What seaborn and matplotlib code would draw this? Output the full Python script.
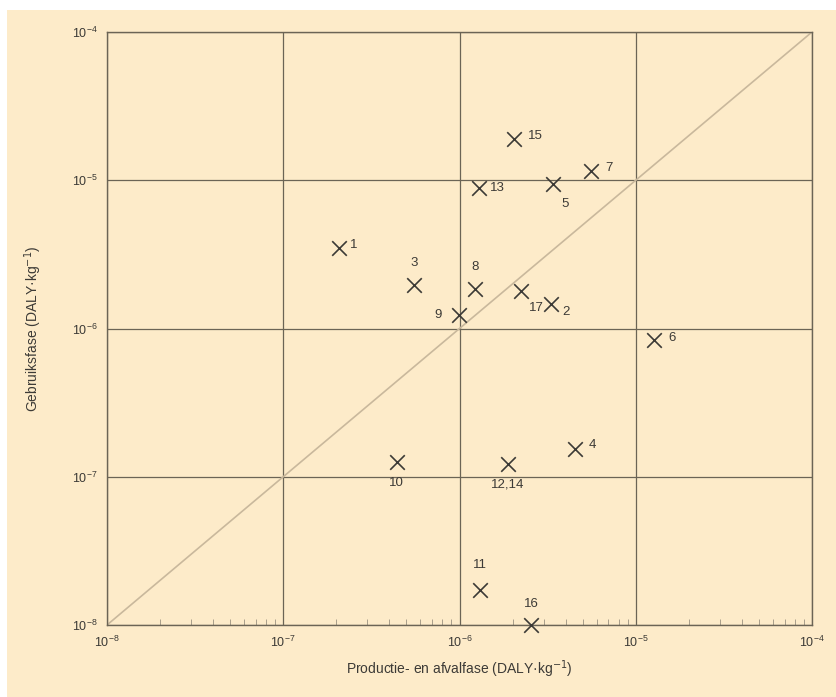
import numpy as np
import pandas as pd
import matplotlib
matplotlib.use('Agg')
import matplotlib.pyplot as plt
import seaborn as sns
from matplotlib.patches import Rectangle
from matplotlib.ticker import LogLocator, NullFormatter

# waarden
labels = ['1', '2', '3', '4', '5', '6', '7', '8', '9', '10',
          '11', '12,14', '13', '15', '16', '17']
productie = [2.07e-7, 3.3e-6, 5.5e-7, 4.5e-6, 3.4e-6, 1.27e-5, 5.6e-6, 1.22e-6, 0.99e-6, 4.4e-7,
             1.31e-6, 1.88e-6, 1.29e-6, 2.04e-6, 2.55e-6, 2.23e-6]
gebruik = [3.5e-6, 1.46e-6, 1.96e-6, 1.54e-7, 9.4e-6, 8.4e-7, 1.15e-5, 1.85e-6, 1.23e-6, 1.26e-7,
           1.72e-8, 1.22e-7, 8.9e-6, 1.9e-5, 1.0e-8, 1.79e-6]
# positie van label t.o.v. kruisje (punten)
offsets = {'1': (8, 2), '2': (8, -6), '3': (0, 16), '4': (10, 3), '5': (6, -14),
           '6': (10, 1), '7': (10, 2), '8': (0, 16), '9': (-12, 0), '10': (0, -15),
           '11': (0, 18), '12,14': (0, -15), '13': (8, 0), '15': (10, 2), '16': (0, 15),
           '17': (6, -12)}

df = pd.DataFrame({'label': labels, 'x': productie, 'y': gebruik})

bg = '#fdebc9'
ink = '#3c3a36'

sns.set_style('ticks')
plt.rcParams['font.family'] = ['Liberation Sans', 'DejaVu Sans']

fig = plt.figure(figsize=(8.37, 6.97), dpi=100)
fig.patch.set_facecolor('white')
fig.patches.append(Rectangle((7 / 837, 0), 1, 1 - 10 / 697, transform=fig.transFigure,
                             facecolor=bg, edgecolor='none', zorder=-10))
ax = fig.add_axes([107 / 837, 1 - 625 / 697, 705 / 837, 593 / 697])
ax.set_facecolor(bg)

ax.set_xscale('log')
ax.set_yscale('log')
ax.set_xlim(1e-8, 1e-4)
ax.set_ylim(1e-8, 1e-4)

# diagonaal
ax.plot([1e-8, 1e-4], [1e-8, 1e-4], color='#c9b89c', lw=1.2, zorder=1)

sns.scatterplot(data=df, x='x', y='y', marker='x', s=110, color=ink,
                linewidth=1.2, ax=ax, zorder=3, legend=False, clip_on=False)

for lab, xv, yv in zip(labels, productie, gebruik):
    dx, dy = offsets[lab]
    ha = 'left' if dx > 2 else ('right' if dx < -2 else 'center')
    ax.annotate(lab, (xv, yv), xytext=(dx, dy), textcoords='offset points',
                ha=ha, va='center', fontsize=9.5, color=ink)

ax.grid(True, which='major', color='#6b6455', lw=0.9)
ax.set_axisbelow(True)
for sp in ax.spines.values():
    sp.set_color('#6b6455')
    sp.set_linewidth(1.0)

ax.xaxis.set_major_locator(LogLocator(base=10, numticks=10))
ax.yaxis.set_major_locator(LogLocator(base=10, numticks=10))
ax.xaxis.set_minor_locator(LogLocator(base=10, subs=np.arange(2, 10), numticks=10))
ax.xaxis.set_minor_formatter(NullFormatter())
ax.yaxis.set_minor_locator(LogLocator(base=10, subs=[]))
ax.tick_params(axis='both', which='major', length=0, labelsize=9, labelcolor=ink, pad=7)
ax.tick_params(axis='x', which='minor', direction='in', length=4, color='#9c9280')

ax.set_xlabel('Productie- en afvalfase (DALY·kg$^{-1}$)', fontsize=10, color=ink, labelpad=6)
ax.set_ylabel('Gebruiksfase (DALY·kg$^{-1}$)', fontsize=10, color=ink, labelpad=20)

fig.savefig('out.png', dpi=100, facecolor=fig.get_facecolor())
